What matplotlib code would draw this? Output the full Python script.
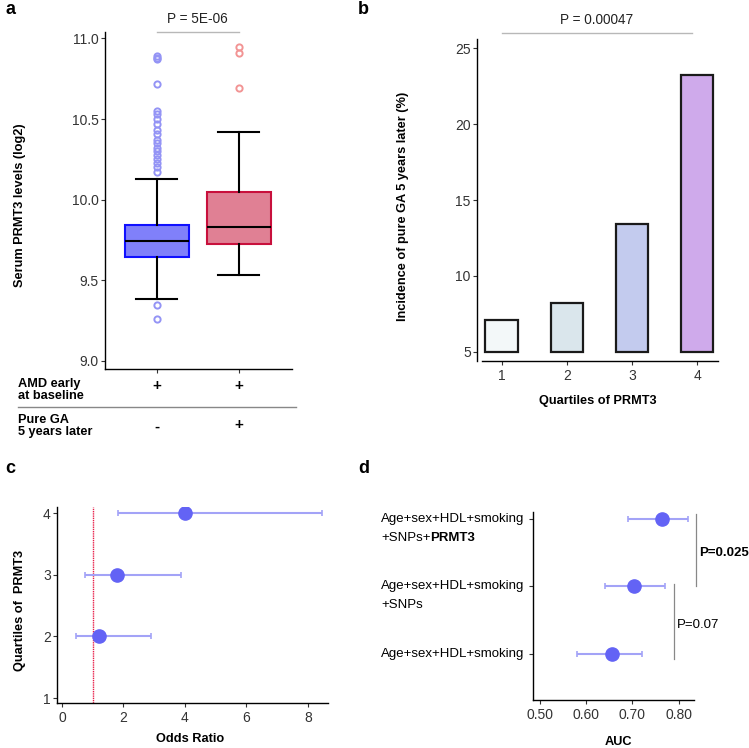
import matplotlib.pyplot as plt
import matplotlib.transforms as mtransforms

plt.rcParams["font.family"] = ["Liberation Sans", "DejaVu Sans"]
plt.rcParams["font.size"] = 9.2

W, H = 749, 748

# --- panel a: box summaries
groups = ["no GA", "pure GA"]
q1 = [9.647, 9.725]
med = [9.745, 9.83]
q3 = [9.845, 10.045]
wlo = [9.387, 9.535]
whi = [10.13, 10.42]
fliers_a = [
    [9.35, 9.26, 10.17, 10.2, 10.23, 10.25, 10.28, 10.3, 10.32, 10.35, 10.37,
     10.41, 10.43, 10.47, 10.5, 10.53, 10.55, 10.72, 10.87, 10.88, 10.89],
    [10.95, 10.91, 10.69],
]
p_a = "P = 5E-06"

# --- panel b
quartiles = [1, 2, 3, 4]
incidence = [7.1, 8.2, 13.4, 23.2]
p_b = "P = 0.00047"

# --- panel c
or_quart = [2, 3, 4]
odds_ratio = [1.2, 1.78, 4.0]
or_lo = [0.45, 0.75, 1.82]
or_hi = [2.9, 3.88, 8.45]

# --- panel d
models_pos = [1, 2, 3]
auc = [0.655, 0.703, 0.763]
auc_lo = [0.58, 0.64, 0.69]
auc_hi = [0.72, 0.77, 0.82]


def box(l, t, r, b):
    return [l / W, (H - b) / H, (r - l) / W, (b - t) / H]


def style(ax):
    for s in ["top", "right"]:
        ax.spines[s].set_visible(False)
    for s in ["left", "bottom"]:
        ax.spines[s].set_linewidth(1.0)
    ax.tick_params(length=3, width=0.8, color="#333333", labelcolor="#333333",
                   labelsize=10)
    ax.tick_params(axis="y", pad=1.5)
    ax.tick_params(axis="x", pad=2.5)


fig = plt.figure(figsize=(W / 100, H / 100), dpi=100)


def ftext(x, y, s, **kw):
    fig.text(x / W, 1 - y / H, s, **kw)


# ---------------- a
ax = fig.add_axes(box(105, 32, 292, 369))
style(ax)
stats = []
for i in range(2):
    stats.append(dict(q1=q1[i], med=med[i], q3=q3[i], whislo=wlo[i],
                      whishi=whi[i], fliers=fliers_a[i]))
bp = ax.bxp(stats, positions=[1, 2], widths=0.78, patch_artist=True,
            showfliers=True,
            whiskerprops=dict(color="black", lw=1.5),
            capprops=dict(color="black", lw=1.5),
            medianprops=dict(color="black", lw=1.5))
for patch, fc, ec in zip(bp["boxes"], ["#8080fa", "#e08094"], ["#1010ff", "#c8103c"]):
    patch.set_facecolor(fc)
    patch.set_edgecolor(ec)
    patch.set_linewidth(1.5)
for cap in bp["caps"]:
    x0, x1 = cap.get_xdata()
    c = (x0 + x1) / 2
    cap.set_xdata([c - 0.25, c + 0.25])
for fl, ec in zip(bp["fliers"], ["#9494f5", "#f29494"]):
    fl.set(marker="o", markerfacecolor="none", markeredgecolor=ec,
           markersize=4.5, markeredgewidth=1.4)
ax.set_xlim(0.37, 2.65)
ax.set_ylim(8.95, 11.04)
ax.set_yticks([9.0, 9.5, 10.0, 10.5, 11.0])
ax.set_yticklabels(["9.0", "9.5", "10.0", "10.5", "11.0"])
ax.set_xticks([1, 2])
ax.set_xticklabels(["", ""])
ax.plot([1, 2], [11.04, 11.04], color="#b8b8b8", lw=1, clip_on=False)
ax.text(1.5, 11.12, p_a, ha="center", va="center", fontsize=9.8, color="#222222")
ftext(20, 205, "Serum PRMT3 levels (log2)", rotation=90, ha="center",
      va="center", fontweight="bold")

# table under a
ftext(18, 390, "AMD early\nat baseline", ha="left", va="center",
      fontweight="bold", linespacing=1.0)
ftext(157, 386, "+", ha="center", va="center", fontweight="bold", fontsize=11)
ftext(239, 386, "+", ha="center", va="center", fontweight="bold", fontsize=11)
fig.add_artist(plt.Line2D([18 / W, 296 / W], [1 - 407 / H, 1 - 407 / H],
                          color="#888888", lw=1))
ftext(18, 426, "Pure GA\n5 years later", ha="left", va="center",
      fontweight="bold", linespacing=1.0)
ftext(157, 427, "-", ha="center", va="center", fontweight="bold", fontsize=11)
ftext(239, 425, "+", ha="center", va="center", fontweight="bold", fontsize=11)

# ---------------- b
ax = fig.add_axes(box(477, 39, 718, 361))
style(ax)
bar_colors = ["#f3f8f9", "#dae6ec", "#c3cbee", "#cfaaeb"]
ax.bar(quartiles, [v - 5 for v in incidence], bottom=5, width=0.5,
       color=bar_colors, edgecolor="#1a1a1a", linewidth=1.6)
ax.set_xlim(0.62, 4.32)
ax.set_ylim(4.4, 25.6)
ax.set_yticks([5, 10, 15, 20, 25])
ax.set_xticks(quartiles)
ax.spines["bottom"].set_bounds(0.69, 4.32)
ax.plot([1, 3.92], [25.99, 25.99], color="#b8b8b8", lw=1, clip_on=False)
ax.text(2.46, 26.84, p_b, ha="center", va="center", fontsize=9.8, color="#222222")
ax.set_xlabel("Quartiles of PRMT3", fontweight="bold", labelpad=9)
ftext(403, 206, "Incidence of pure GA 5 years later (%)", rotation=90,
      ha="center", va="center", fontweight="bold")

# ---------------- c
ax = fig.add_axes(box(57, 507, 328, 703))
style(ax)
ax.axvline(1, color="#e8204a", lw=1, ls=(0, (1, 0.6)))
ax.errorbar(odds_ratio, or_quart, xerr=[[o - l for o, l in zip(odds_ratio, or_lo)],
                                        [h - o for o, h in zip(odds_ratio, or_hi)]],
            fmt="none", ecolor="#a3a3f7", elinewidth=1.5, capsize=2.5, capthick=1.2)
ax.plot(odds_ratio, or_quart, "o", color="#6363f5", markersize=9.5)
ax.set_xlim(-0.16, 8.65)
ax.set_ylim(0.92, 4.1)
ax.set_xticks([0, 2, 4, 6, 8])
ax.set_yticks([1, 2, 3, 4])
ftext(190, 739, "Odds Ratio", ha="center", va="center", fontweight="bold")
ftext(20, 610, "Quartiles of  PRMT3", rotation=90, ha="center", va="center",
      fontweight="bold")

# ---------------- d
ax = fig.add_axes(box(533, 512, 694, 700))
style(ax)
ax.errorbar(auc, models_pos, xerr=[[a - l for a, l in zip(auc, auc_lo)],
                                   [h - a for a, h in zip(auc, auc_hi)]],
            fmt="none", ecolor="#a3a3f7", elinewidth=1.5, capsize=2.5, capthick=1.2)
ax.plot(auc, models_pos, "o", color="#6363f5", markersize=9.5)
ax.set_xlim(0.485, 0.833)
ax.set_ylim(0.32, 3.1)
ax.set_xticks([0.5, 0.6, 0.7, 0.8])
ax.set_xticklabels(["0.50", "0.60", "0.70", "0.80"])
ax.set_yticks(models_pos)
ax.set_yticklabels(["", "", ""])
trans = mtransforms.blended_transform_factory(fig.transFigure, ax.transData)
lx = 381 / W
for y in models_pos:
    ax.text(lx, y, "Age+sex+HDL+smoking", transform=trans, ha="left",
            va="center", fontsize=9.5)
shift = mtransforms.ScaledTranslation(0, -19 / 100, fig.dpi_scale_trans)
ax.text(lx, 2, "+SNPs", transform=trans + shift, ha="left", va="center",
        fontsize=9.5)
t3 = ax.text(lx, 3, "+SNPs+", transform=trans + shift, ha="left", va="center",
             fontsize=9.5)
ax.annotate("PRMT3", xy=(1, 0.5), xycoords=t3, ha="left", va="center",
            fontsize=9.5, fontweight="bold")
ax.plot([0.837, 0.837], [2.0, 3.07], color="#888888", lw=0.9, clip_on=False)
ax.plot([0.79, 0.79], [0.93, 2.03], color="#888888", lw=0.9, clip_on=False)
ax.text(0.8445, 2.5, "P=0.025", ha="left", va="center", fontsize=9.5,
        fontweight="bold")
ax.text(0.7965, 1.43, "P=0.07", ha="left", va="center", fontsize=9.5)
ftext(618, 742, "AUC", ha="center", va="center", fontweight="bold")

# panel letters
for x, y, s in [(5, 10, "a"), (358, 10, "b"), (5, 469, "c"), (358, 469, "d")]:
    ftext(x, y, s, ha="left", va="center", fontweight="bold", fontsize=13)

fig.savefig("out.png", dpi=100)
